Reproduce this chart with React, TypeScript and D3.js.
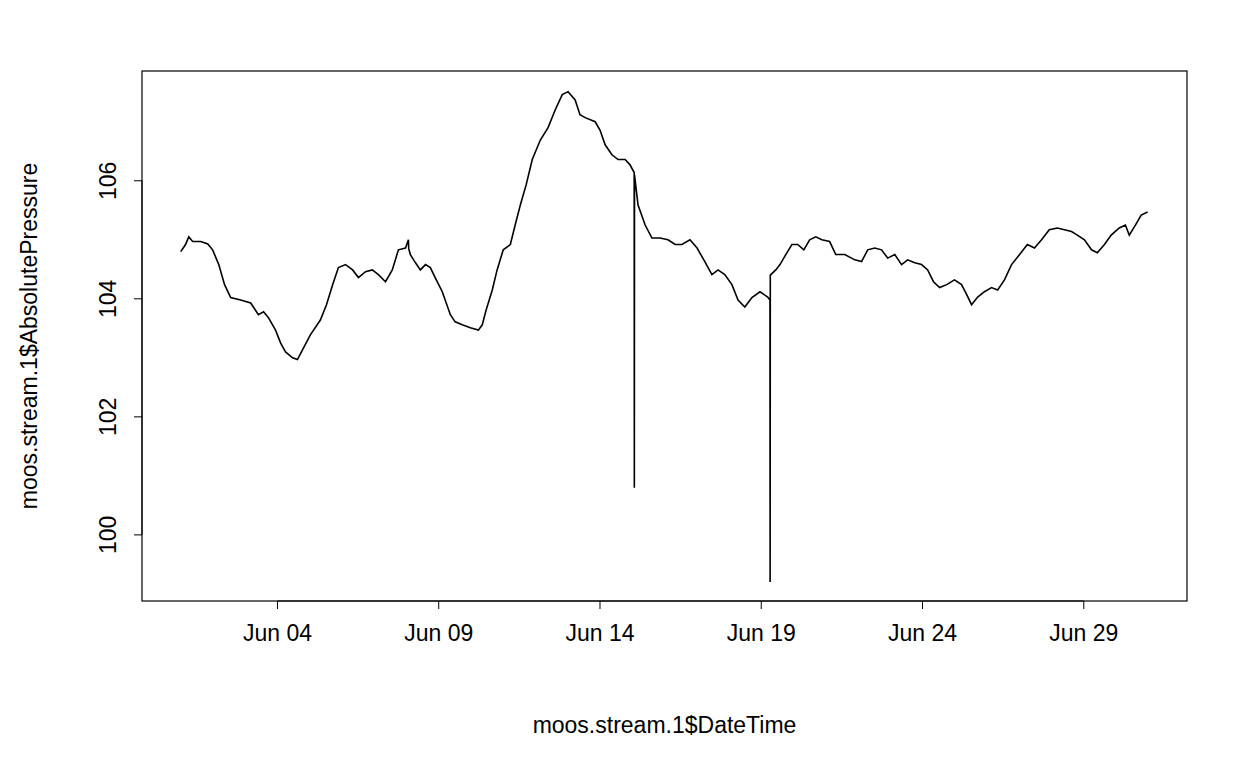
import React from "react";
import * as d3 from "d3";

const days = [0.00,0.15,0.25,0.37,0.62,0.84,0.99,1.18,1.36,1.55,1.86,2.17,2.41,2.57,2.72,2.94,3.10,3.25,3.47,3.62,3.78,4.02,4.33,4.52,4.71,4.89,5.11,5.33,5.51,5.73,5.94,6.13,6.35,6.56,6.75,6.97,7.06,7.07,7.12,7.28,7.43,7.59,7.74,7.89,8.11,8.36,8.51,8.73,8.98,9.23,9.35,9.47,9.66,9.81,10.00,10.22,10.37,10.53,10.71,10.90,11.15,11.39,11.61,11.83,12.01,12.23,12.38,12.54,12.85,13.00,13.16,13.37,13.56,13.78,13.93,14.06,14.065,14.07,14.18,14.40,14.61,14.86,15.11,15.33,15.54,15.79,16.01,16.25,16.47,16.66,16.87,17.09,17.28,17.49,17.71,17.96,18.20,18.27,18.275,18.28,18.45,18.58,18.76,18.95,19.13,19.32,19.50,19.69,19.88,20.12,20.31,20.59,20.90,21.11,21.30,21.52,21.73,21.92,22.14,22.35,22.54,22.76,22.97,23.16,23.34,23.53,23.75,23.99,24.21,24.37,24.52,24.71,24.92,25.14,25.33,25.54,25.76,26.01,26.25,26.47,26.69,26.93,27.18,27.40,27.62,27.80,28.02,28.24,28.42,28.64,28.85,29.10,29.29,29.41,29.60,29.78,29.98];
const pressure = [104.80,104.92,105.05,104.97,104.97,104.93,104.83,104.58,104.24,104.02,103.98,103.93,103.73,103.78,103.68,103.47,103.25,103.10,103.00,102.97,103.14,103.39,103.64,103.90,104.24,104.53,104.58,104.49,104.36,104.46,104.49,104.41,104.29,104.49,104.83,104.86,105.00,104.85,104.75,104.61,104.49,104.58,104.53,104.36,104.12,103.73,103.61,103.56,103.51,103.47,103.56,103.81,104.15,104.49,104.83,104.92,105.25,105.59,105.93,106.36,106.69,106.90,107.20,107.46,107.51,107.37,107.12,107.07,107.00,106.86,106.61,106.44,106.36,106.36,106.27,106.14,100.80,106.10,105.59,105.25,105.03,105.03,105.00,104.92,104.92,105.00,104.86,104.63,104.41,104.49,104.41,104.24,103.98,103.86,104.02,104.12,104.03,103.98,99.20,104.40,104.49,104.58,104.75,104.92,104.92,104.83,105.00,105.05,105.00,104.97,104.75,104.75,104.66,104.63,104.83,104.86,104.83,104.69,104.75,104.58,104.66,104.61,104.58,104.49,104.29,104.19,104.24,104.32,104.24,104.07,103.90,104.03,104.12,104.19,104.15,104.32,104.58,104.75,104.92,104.86,105.00,105.17,105.20,105.17,105.14,105.08,105.00,104.83,104.78,104.92,105.08,105.20,105.25,105.08,105.25,105.42,105.47];
const xTickDates = ["2015-06-04","2015-06-09","2015-06-14","2015-06-19","2015-06-24","2015-06-29"];
const yTicks = [100, 102, 104, 106];

const start = Date.UTC(2015, 5, 1);
const DAY = 86400000;

export default function App() {
  const W = 1259, H = 778;
  const L = 142, R = 1187, T = 71, B = 601;
  const pad = 30 * DAY * 0.04;
  const x = d3.scaleUtc().domain([new Date(start - pad), new Date(start + 30 * DAY + pad)]).range([L, R]);
  const y = d3.scaleLinear().domain([98.88, 107.86]).range([B, T]);
  const pts: [Date, number][] = days.map((d, i) => [new Date(start + d * DAY), pressure[i]]);
  const line = d3.line<[Date, number]>().x(p => x(p[0])).y(p => y(p[1]));
  const fmt = d3.utcFormat("%b %d");
  const xt = xTickDates.map(s => new Date(s + "T00:00:00Z"));
  const font = "Liberation Sans, Arial, sans-serif";
  return (
    <svg width={W} height={H} style={{ position: "absolute", left: 0, top: 0, background: "#fff" }} fontFamily={font}>
      <rect x={L} y={T} width={R - L} height={B - T} fill="none" stroke="#000" strokeWidth={1.2} />
      <path d={line(pts) || ""} fill="none" stroke="#000" strokeWidth={1.6} />
      <line x1={x(xt[0])} x2={x(xt[xt.length - 1])} y1={B} y2={B} stroke="#000" />
      {xt.map((d, i) => (
        <g key={i}>
          <line x1={x(d)} x2={x(d)} y1={B} y2={B + 8} stroke="#000" />
          <text x={x(d)} y={B + 40} fontSize={23} textAnchor="middle">{fmt(d)}</text>
        </g>
      ))}
      <line x1={L} x2={L} y1={y(yTicks[0])} y2={y(yTicks[yTicks.length - 1])} stroke="#000" />
      {yTicks.map(v => (
        <g key={v}>
          <line x1={L - 8} x2={L} y1={y(v)} y2={y(v)} stroke="#000" />
          <text transform={`translate(${L - 26},${y(v)}) rotate(-90)`} fontSize={23} textAnchor="middle">{v}</text>
        </g>
      ))}
      <text x={(L + R) / 2} y={733} fontSize={23} textAnchor="middle">moos.stream.1$DateTime</text>
      <text transform={`translate(37,${(T + B) / 2}) rotate(-90)`} fontSize={23} textAnchor="middle">moos.stream.1$AbsolutePressure</text>
    </svg>
  );
}
